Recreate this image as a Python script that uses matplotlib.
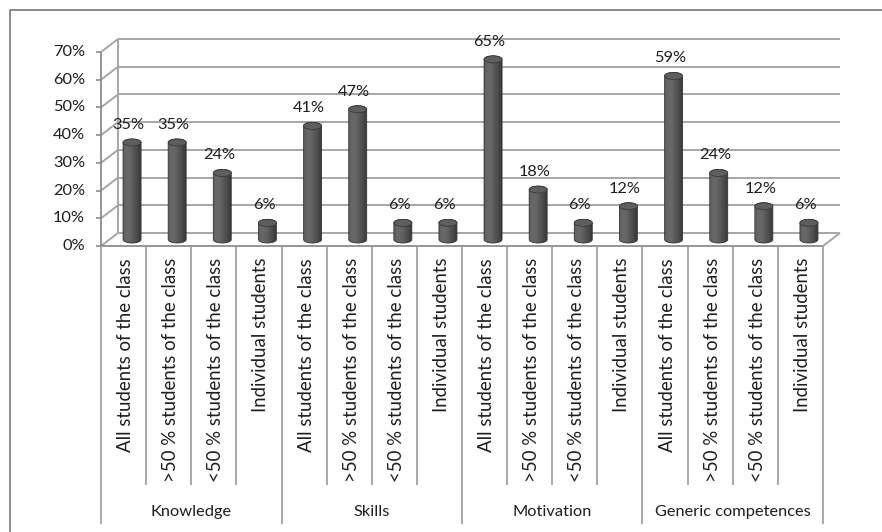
import numpy as np
import matplotlib
matplotlib.use("Agg")
import matplotlib.pyplot as plt
from matplotlib.path import Path
from matplotlib.patches import PathPatch, Ellipse
from matplotlib.lines import Line2D

plt.rcParams['font.family'] = ['Lato', 'DejaVu Sans']

# ---- data -------------------------------------------------------------
groups = ["Knowledge", "Skills", "Motivation", "Generic competences"]
levels = ["All students of the class", ">50 % students of the class",
          "<50 % students of the class", "Individual students"]
knowledge = [35, 35, 24, 6]
skills = [41, 47, 6, 6]
motivation = [65, 18, 6, 12]
generic = [59, 24, 12, 6]
y_ticks = [0, 10, 20, 30, 40, 50, 60, 70]

values = knowledge + skills + motivation + generic
n = len(values)

# ---- figure / front plane --------------------------------------------
W, H, DPI = 882, 532, 100
fig = plt.figure(figsize=(W / DPI, H / DPI), dpi=DPI)
fig.patch.set_facecolor('white')

x_left, x_right = 101, 823      # front plane, pixels
y_bot, y_top = 246, 52          # 0 % and 70 %, pixels from top
ax = fig.add_axes([x_left / W, (H - y_bot) / H,
                   (x_right - x_left) / W, (y_bot - y_top) / H])
ax.set_xlim(0, n)
ax.set_ylim(0, y_ticks[-1])
ax.axis('off')

px_x = (x_right - x_left) / n            # pixels per category
px_y = (y_bot - y_top) / y_ticks[-1]     # pixels per percent
ddx, ddy = 17 / px_x, 13 / px_y          # depth offset in data units

grid_c = '#a6a6a6'
axis_c = '#8c8c8c'
text_c = '#1e1e1e'
num_fs = 11.8
cat_fs = 13.4
grp_fs = 11.8

def seg(xs, ys, color=grid_c, lw=1.4):
    ax.add_line(Line2D(xs, ys, color=color, lw=lw, clip_on=False,
                       solid_capstyle='butt'))

# back wall gridlines and left wall diagonals
for t in y_ticks:
    seg([ddx, n + ddx], [t + ddy, t + ddy])
    seg([0, ddx], [t, t + ddy])
    seg([-5 / px_x, 0], [t, t], color=axis_c, lw=1.2)
    ax.annotate(f"{t}%", (0, t), xytext=(-16, 0), textcoords='offset pixels',
                ha='right', va='center', fontsize=num_fs, color=text_c,
                annotation_clip=False)

seg([ddx, ddx], [ddy, y_ticks[-1] + ddy])
seg([0, 0], [0, y_ticks[-1]], color=axis_c, lw=1.3)
seg([0, n], [0, 0], color=axis_c, lw=1.3)
seg([n, n + ddx], [0, ddy], color=grid_c, lw=1.4)

# category separators and labels below the floor
inner_len = (485 - y_bot) / px_y
outer_len = (524 - y_bot) / px_y
for k in range(n + 1):
    L = outer_len if k % 4 == 0 else inner_len
    seg([k, k], [0, -L], color='#9a9a9a', lw=1.2)

for i in range(n):
    ax.annotate(levels[i % 4], (i + 0.5, -12 / px_y), xytext=(2, 0),
                textcoords='offset pixels', rotation=90, ha='center',
                va='top', fontsize=cat_fs, color=text_c, annotation_clip=False)

for g, name in enumerate(groups):
    ax.text(4 * g + 2, -(512 - y_bot) / px_y, name, ha='center',
            va='center', fontsize=grp_fs, color=text_c, clip_on=False)

# ---- cylinders ---------------------------------------------------------
bw = 18 / px_x           # cylinder width
eb = 3.5 / px_y          # half height of end ellipses
shade = np.array([0.36, 0.40, 0.41, 0.39, 0.35, 0.31, 0.27, 0.22])
cols = np.linspace(0, 1, 64)
g = np.interp(cols, np.linspace(0, 1, len(shade)), shade)
grad = np.dstack([g, g, g])

for i, v in enumerate(values):
    xc = i + 0.5 + ddx / 2
    y0 = ddy / 2
    y1 = v + ddy / 2
    l, r = xc - bw / 2, xc + bw / 2
    tb = np.linspace(np.pi, 2 * np.pi, 30)
    tt = np.linspace(0, np.pi, 30)
    xs = np.concatenate([xc + bw / 2 * np.cos(tb), xc + bw / 2 * np.cos(tt)])
    ys = np.concatenate([y0 + eb * np.sin(tb), y1 + eb * np.sin(tt)])
    verts = np.column_stack([xs, ys])
    body = PathPatch(Path(np.vstack([verts, verts[:1]]), closed=True),
                     facecolor='none', edgecolor='none', clip_on=False)
    ax.add_patch(body)
    im = ax.imshow(grad, extent=[l, r, y0 - eb, y1 + eb], aspect='auto',
                   interpolation='bilinear', zorder=3)
    im.set_clip_path(body)
    ax.add_patch(PathPatch(Path(np.vstack([verts, verts[:1]]), closed=True),
                           facecolor='none', edgecolor='#333333', lw=0.6,
                           zorder=4, clip_on=False))
    ax.add_patch(Ellipse((xc, y1), bw, 2 * eb, facecolor='#5e5e5e',
                         edgecolor='#3a3a3a', lw=0.6, zorder=5,
                         clip_on=False))
    ax.annotate(f"{v}%", (xc, y1), xytext=(-3.5, 17.5),
                textcoords='offset pixels', ha='center', va='center',
                fontsize=num_fs, color=text_c, annotation_clip=False, zorder=6)

ax.set_xlim(0, n)
ax.set_ylim(0, y_ticks[-1])

# outer chart border
fig.add_artist(Line2D([9.5 / W, 9.5 / W, 1], [0, (H - 9.5) / H, (H - 9.5) / H],
                      transform=fig.transFigure, color='#8a8a8a', lw=1.4))

fig.savefig('out.png', dpi=DPI)
